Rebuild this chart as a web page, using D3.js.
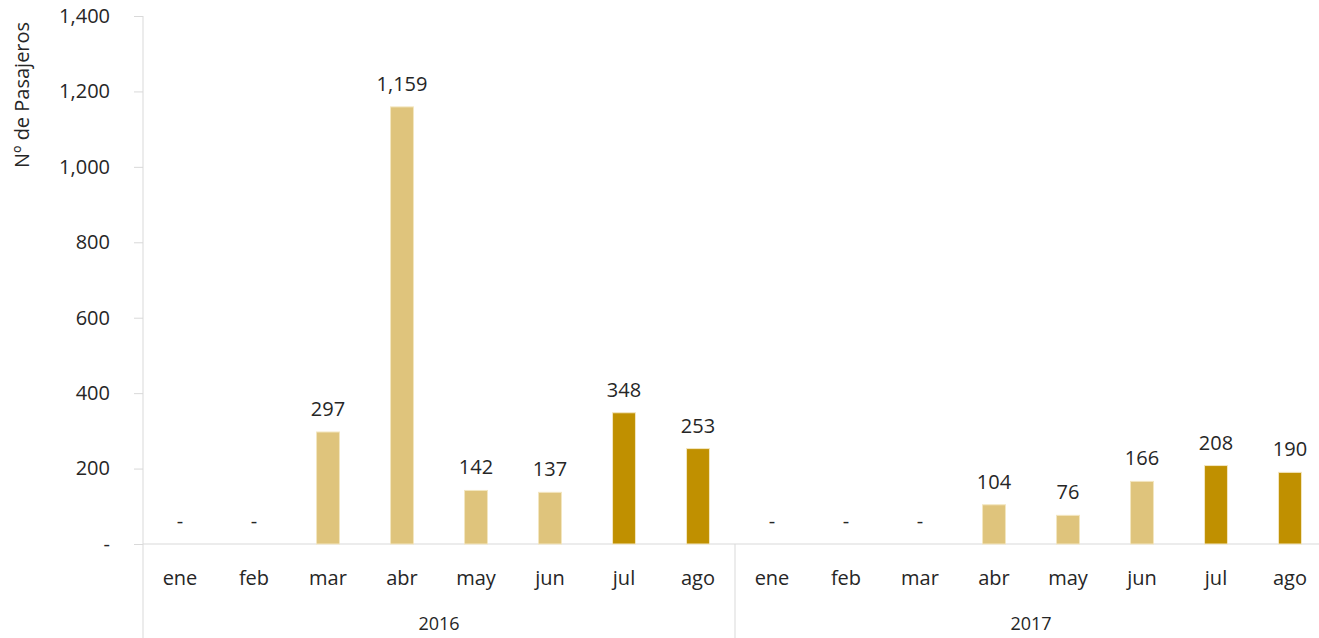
<!DOCTYPE html>
<html lang="es">
<head>
  <meta charset="UTF-8" />
  <title>Nº de Pasajeros</title>
  <script src="https://d3js.org/d3.v7.min.js"></script>
  <style>
    body { margin: 0; background: #fff; }
    text { font-family: "Open Sans", "DejaVu Sans", sans-serif; fill: #262626; }
  </style>
</head>
<body>
  <svg id="chart" width="1319" height="638"></svg>

  <script>
    const years = ["2016", "2017"];
    const months = ["ene", "feb", "mar", "abr", "may", "jun", "jul", "ago"];
    const values2016 = [0, 0, 297, 1159, 142, 137, 348, 253];
    const values2017 = [0, 0, 0, 104, 76, 166, 208, 190];
    const highlightMonths = ["jul", "ago"];
    const yTicks = [0, 200, 400, 600, 800, 1000, 1200, 1400];

    const width = 1319;
    const height = 638;
    const margin = { top: 16, right: -8, bottom: 94, left: 143 };

    const lightColor = "#dfc47c";
    const darkColor = "#c09000";
    const gridColor = "#d9d9d9";

    const data = [];
    years.forEach((yr, yi) => {
      const vals = yi === 0 ? values2016 : values2017;
      months.forEach((m, mi) => {
        data.push({ year: yr, month: m, key: yr + "-" + m, value: vals[mi] });
      });
    });

    const svg = d3.select("#chart");

    const x = d3.scaleBand()
      .domain(data.map(d => d.key))
      .range([margin.left, width - margin.right])
      .paddingInner(0.69)
      .paddingOuter(0.345);

    const y = d3.scaleLinear()
      .domain([0, 1400])
      .range([height - margin.bottom, margin.top]);

    const fmt = d3.format(",");

    // y axis
    const yAxis = d3.axisLeft(y)
      .tickValues(yTicks)
      .tickSize(9)
      .tickPadding(24)
      .tickFormat(d => d === 0 ? "-" : fmt(d));

    const gy = svg.append("g")
      .attr("transform", `translate(${margin.left},0)`)
      .call(yAxis);
    gy.select(".domain").remove();
    gy.selectAll(".tick line").attr("stroke", gridColor);
    gy.selectAll(".tick text").style("font-size", "20px").attr("fill", "#262626");

    svg.append("line")
      .attr("x1", margin.left).attr("x2", margin.left)
      .attr("y1", y(1400)).attr("y2", height)
      .attr("stroke", gridColor);

    // x axis baseline
    svg.append("line")
      .attr("x1", margin.left).attr("x2", width)
      .attr("y1", y(0)).attr("y2", y(0))
      .attr("stroke", gridColor);

    // group separators and year labels
    const step = x.step();
    years.forEach((yr, yi) => {
      const x0 = margin.left + yi * months.length * step;
      if (yi > 0) {
        svg.append("line")
          .attr("x1", x0).attr("x2", x0)
          .attr("y1", y(0)).attr("y2", height)
          .attr("stroke", gridColor);
      }
      svg.append("text")
        .attr("x", x0 + months.length * step / 2)
        .attr("y", 630)
        .attr("text-anchor", "middle")
        .style("font-size", "18px")
        .text(yr);
    });

    // month labels
    svg.append("g").selectAll("text")
      .data(data)
      .join("text")
      .attr("x", d => x(d.key) + x.bandwidth() / 2)
      .attr("y", 585)
      .attr("text-anchor", "middle")
      .style("font-size", "20px")
      .text(d => d.month);

    // bars
    svg.append("g").selectAll("rect")
      .data(data.filter(d => d.value > 0))
      .join("rect")
      .attr("x", d => x(d.key))
      .attr("y", d => y(d.value))
      .attr("width", x.bandwidth())
      .attr("height", d => y(0) - y(d.value))
      .attr("fill", d => highlightMonths.includes(d.month) ? darkColor : lightColor)
      .attr("stroke", "#f3e6c0")
      .attr("stroke-width", 1);

    // value labels
    svg.append("g").selectAll("text")
      .data(data)
      .join("text")
      .attr("x", d => x(d.key) + x.bandwidth() / 2)
      .attr("y", d => y(d.value) - 16)
      .attr("text-anchor", "middle")
      .style("font-size", "20px")
      .text(d => d.value === 0 ? "-" : fmt(d.value));

    // y axis title
    svg.append("text")
      .attr("transform", "translate(29,95) rotate(-90)")
      .attr("text-anchor", "middle")
      .style("font-size", "20px")
      .text("Nº de Pasajeros");
  </script>
</body>
</html>
